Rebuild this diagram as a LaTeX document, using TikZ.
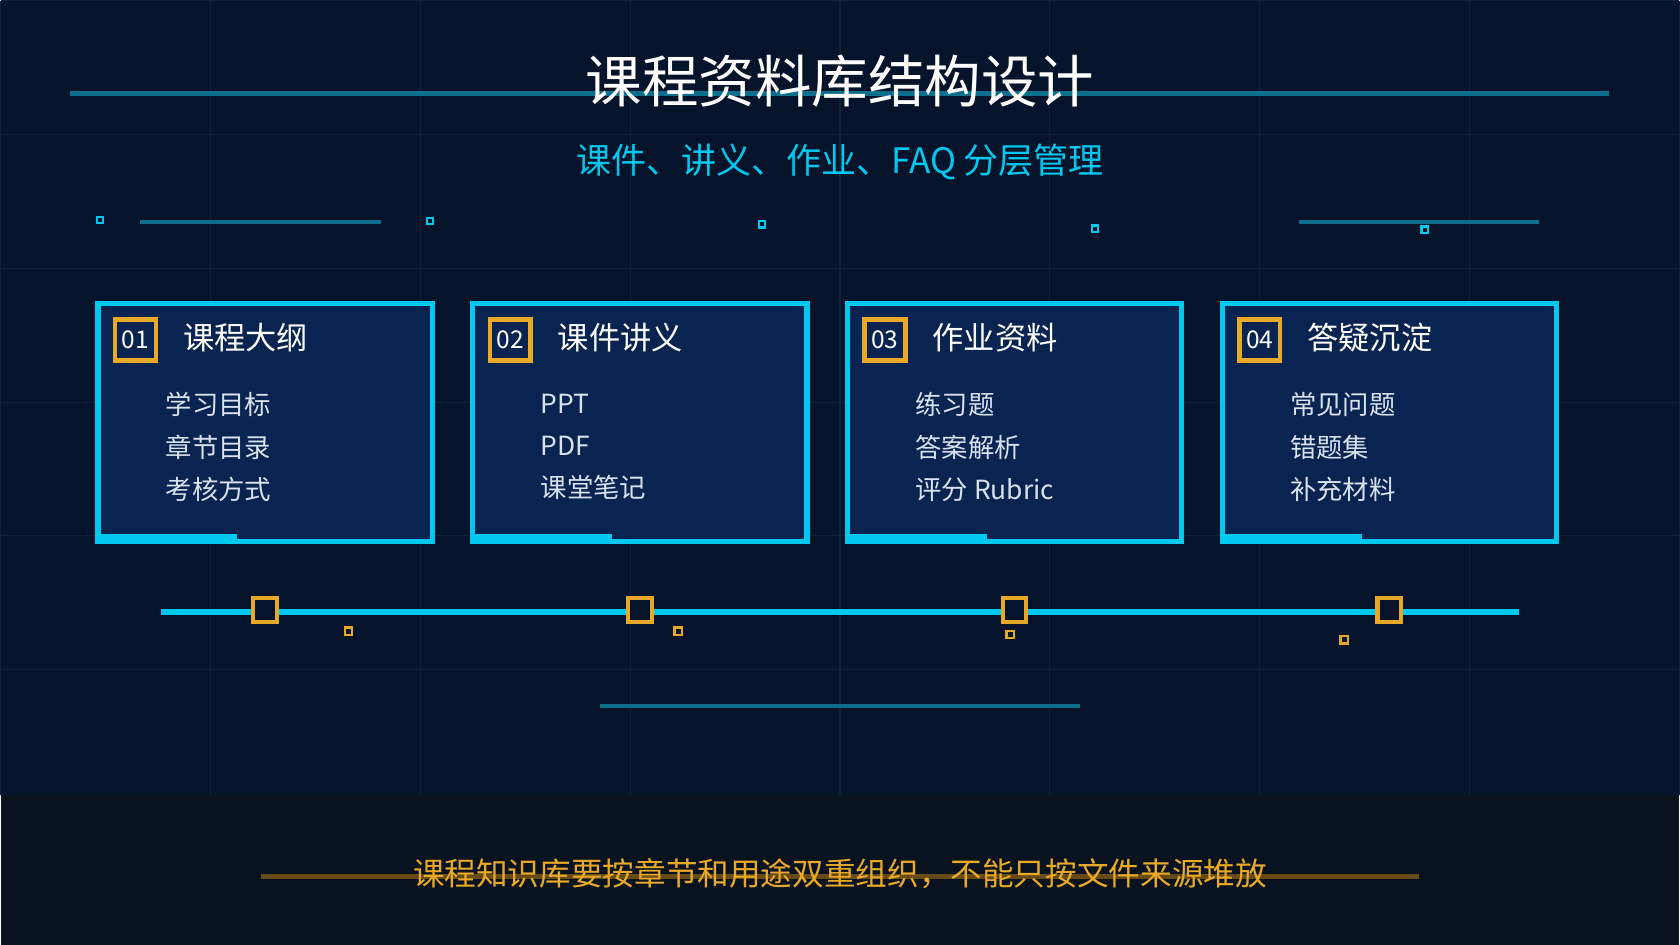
\documentclass[tikz,border=0pt]{standalone}
\usepackage{fontspec}
\setmainfont{Noto Sans CJK SC}
\usepackage{xcolor}
\definecolor{bgnavy}{HTML}{06142B}
\definecolor{bgfoot}{HTML}{08131F}
\definecolor{gridc}{HTML}{0B2238}
\definecolor{cyanc}{HTML}{00C8EE}
\definecolor{linec}{HTML}{0A6E8C}
\definecolor{cardc}{HTML}{0A2452}
\definecolor{goldc}{HTML}{E8A828}
\definecolor{itemc}{HTML}{D8E2EE}
\tikzset{
  card/.style={rectangle,draw=cyanc,line width=1.4pt,fill=cardc,minimum width=3.12cm,minimum height=2.22cm,anchor=north west,outer sep=0pt},
  numbox/.style={rectangle,draw=goldc,line width=1.2pt,minimum size=0.38cm,inner sep=0pt,text=white,font=\fontsize{6.5}{8}\selectfont},
  cardtitle/.style={anchor=west,text=white,font=\fontsize{8.3}{10}\selectfont},
  item/.style={anchor=west,text=itemc,font=\fontsize{7}{11.2}\selectfont,align=left},
  tick/.style={rectangle,draw=goldc,line width=1.1pt,minimum size=0.22cm,inner sep=0pt,fill=bgnavy},
  dot/.style={rectangle,draw=#1,line width=0.6pt,minimum size=0.06cm,inner sep=0pt},
  deco/.style={linec,line width=1.2pt}
}
\begin{document}
\begin{tikzpicture}[x=0.01cm,y=-0.01cm]
\fill[bgnavy] (0,0) rectangle (1568,882);
\fill[bgfoot] (0,742) rectangle (1568,882);
\foreach \gx in {0,196,...,1568} \draw[gridc,line width=0.3pt] (\gx,0) -- (\gx,742);
\foreach \gy in {0,125,...,742} \draw[gridc,line width=0.3pt] (0,\gy) -- (1568,\gy);

% title
\draw[deco] (65,87) -- (1502,87);
\node[text=white,font=\fontsize{15}{18}\selectfont] (title) at (784,75) {课程资料库结构设计};
\node[text=cyanc,font=\fontsize{9.3}{12}\selectfont] (subtitle) at (784,151) {课件、讲义、作业、FAQ 分层管理};

% decorations
\draw[deco] (130,207) -- (355,207);
\draw[deco] (1213,207) -- (1437,207);
\foreach \px/\py in {93/205,401/206,711/209,1022/213,1330/214}
  \node[dot=cyanc] at (\px,\py) {};

% cards
\foreach \i/\cx/\num/\head/\lst in {
  1/91/01/课程大纲/{学习目标\\章节目录\\考核方式},
  2/441/02/课件讲义/{PPT\\PDF\\课堂笔记},
  3/791/03/作业资料/{练习题\\答案解析\\评分 Rubric},
  4/1141/04/答疑沉淀/{常见问题\\错题集\\补充材料}}{
  \node[card] (card\i) at (\cx,283) {};
  \draw[cyanc,line width=1.8pt] ([yshift=1.2pt]card\i.south west) -- ++(1.3cm,0);
  \node[numbox] (num\i) at (\cx+35,317) {\num};
  \node[cardtitle] (head\i) at (\cx+67,315) {\head};
  \node[item] (list\i) at (\cx+51,417) {\lst};
}

% timeline
\draw[cyanc,line width=1.8pt] (150,571) -- (1418,571);
\foreach \i/\tx in {1/247,2/597,3/947,4/1297}
  \node[tick] (tick\i) at (\tx,569) {};
\foreach \px/\py in {325/589,633/589,943/592,1255/597}
  \node[dot=goldc,minimum size=0.07cm] at (\px,\py) {};
\draw[deco] (560,659) -- (1008,659);

% footer
\draw[goldc!45!black,line width=1.2pt] (243,818) -- (1325,818);
\node[text=goldc,font=\fontsize{8.4}{11}\selectfont] (footer) at (784,815) {课程知识库要按章节和用途双重组织，不能只按文件来源堆放};
\end{tikzpicture}
\end{document}
